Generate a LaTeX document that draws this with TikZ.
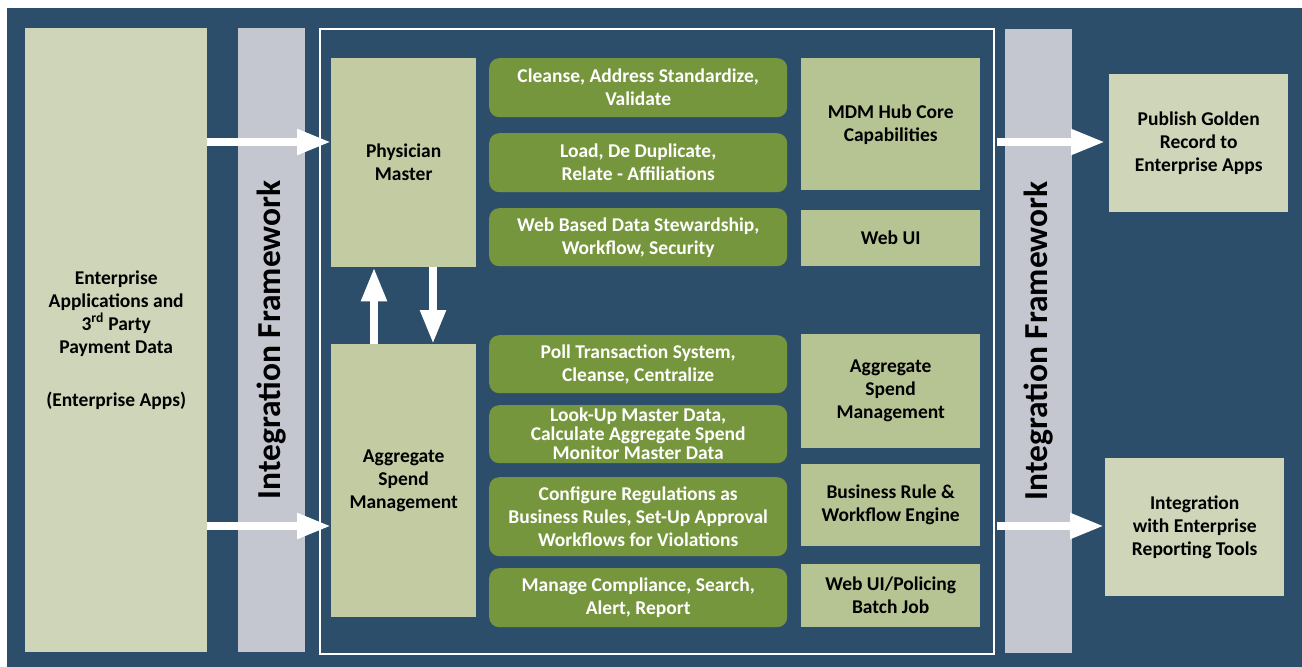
\documentclass[tikz,border=0pt]{standalone}
\usepackage{fontspec}
\setmainfont{Carlito}
\usetikzlibrary{arrows.meta}
\definecolor{bgblue}{RGB}{45,78,106}
\definecolor{srcfill}{RGB}{207,213,184}
\definecolor{barfill}{RGB}{196,199,208}
\definecolor{masterfill}{RGB}{195,203,163}
\definecolor{capfill}{RGB}{182,195,146}
\definecolor{greenfill}{RGB}{118,150,61}
\tikzset{
  txt/.style={font=\bfseries\fontsize{19.5}{23}\selectfont, align=center, inner sep=0pt},
  lightbox/.style={txt, fill=srcfill, text=black, anchor=north west},
  masterbox/.style={txt, fill=masterfill, text=black, anchor=north west},
  capbox/.style={txt, fill=capfill, text=black, anchor=north west},
  greenbox/.style={txt, fill=greenfill, text=white, rounded corners=10pt, anchor=north west, minimum width=298pt},
  intbar/.style={fill=barfill, rotate=90, inner sep=0pt, minimum width=624pt, minimum height=67pt,
    font=\bfseries\fontsize{33.5}{38}\selectfont, text=black},
  bigarrow/.style={draw=white, line width=8pt, -{Triangle[length=34pt,width=24pt]}}
}
\begin{document}
\begin{tikzpicture}[x=1pt,y=-1pt]
\useasboundingbox (0,0) rectangle (1302,667);
\fill[bgblue] (7,8) rectangle (1302,667);

% source box
\node[lightbox, minimum width=182pt, minimum height=624pt] (src) at (25,28)
  {Enterprise\\Applications and\\3\textsuperscript{rd} Party\\Payment Data\\[30pt](Enterprise Apps)};

% integration bars
\node[intbar] (ifl) at (271.5,340) {Integration Framework};
\node[intbar] (ifr) at (1038.5,341) {Integration Framework};

% white frame
\node[draw=white, line width=2pt, inner sep=0pt, minimum width=674pt, minimum height=625pt, anchor=north west] (frame) at (319,28) {};

% master boxes
\node[masterbox, minimum width=145pt, minimum height=209pt] (phys) at (331,58) {Physician\\Master};
\node[masterbox, minimum width=145pt, minimum height=273pt] (asm) at (331,344) {Aggregate\\Spend\\Management};

% green process boxes
\node[greenbox, minimum height=59pt] (g1) at (489,58) {Cleanse, Address Standardize,\\Validate};
\node[greenbox, minimum height=59pt] (g2) at (489,133) {Load, De Duplicate,\\Relate - Affiliations};
\node[greenbox, minimum height=58pt] (g3) at (489,208) {Web Based Data Stewardship,\\Workflow, Security};
\node[greenbox, minimum height=58pt] (g4) at (489,335) {Poll Transaction System,\\Cleanse, Centralize};
\node[greenbox, minimum height=58pt] (g5) at (489,405) {Look-Up Master Data,\\[-4pt]Calculate Aggregate Spend\\[-4pt]Monitor Master Data};
\node[greenbox, minimum height=79pt] (g6) at (489,477) {Configure Regulations as\\Business Rules, Set-Up Approval\\Workflows for Violations};
\node[greenbox, minimum height=59pt] (g7) at (489,568) {Manage Compliance, Search,\\Alert, Report};

% capability boxes
\node[capbox, minimum width=179pt, minimum height=132pt] (c1) at (801,58) {MDM Hub Core\\Capabilities};
\node[capbox, minimum width=179pt, minimum height=56pt] (c2) at (801,210) {Web UI};
\node[capbox, minimum width=179pt, minimum height=114pt] (c3) at (801,334) {Aggregate\\Spend\\Management};
\node[capbox, minimum width=179pt, minimum height=82pt] (c4) at (801,464) {Business Rule \&\\Workflow Engine};
\node[capbox, minimum width=179pt, minimum height=63pt] (c5) at (801,564) {Web UI/Policing\\Batch Job};

% targets
\node[lightbox, minimum width=179pt, minimum height=138pt] (pub) at (1109,74) {Publish Golden\\Record to\\Enterprise Apps};
\node[lightbox, minimum width=179pt, minimum height=138pt] (rep) at (1105,458) {Integration\\with Enterprise\\Reporting Tools};

% arrow rows/columns
\coordinate (rtop) at (0,142);
\coordinate (rbot) at (0,526);
\coordinate (cup) at (374,0);
\coordinate (cdown) at (433,0);

\draw[bigarrow] (src.east |- rtop) -- (phys.west |- rtop);
\draw[bigarrow] (src.east |- rbot) -- (asm.west |- rbot);
\draw[bigarrow] (asm.north -| cup) -- (phys.south -| cup);
\draw[bigarrow] (phys.south -| cdown) -- (asm.north -| cdown);
\draw[bigarrow, shorten <=2pt, shorten >=4pt] (frame.east |- rtop) -- (pub.west |- rtop);
\draw[bigarrow, shorten <=2pt, shorten >=1pt] (frame.east |- rbot) -- (rep.west |- rbot);
\end{tikzpicture}
\end{document}
